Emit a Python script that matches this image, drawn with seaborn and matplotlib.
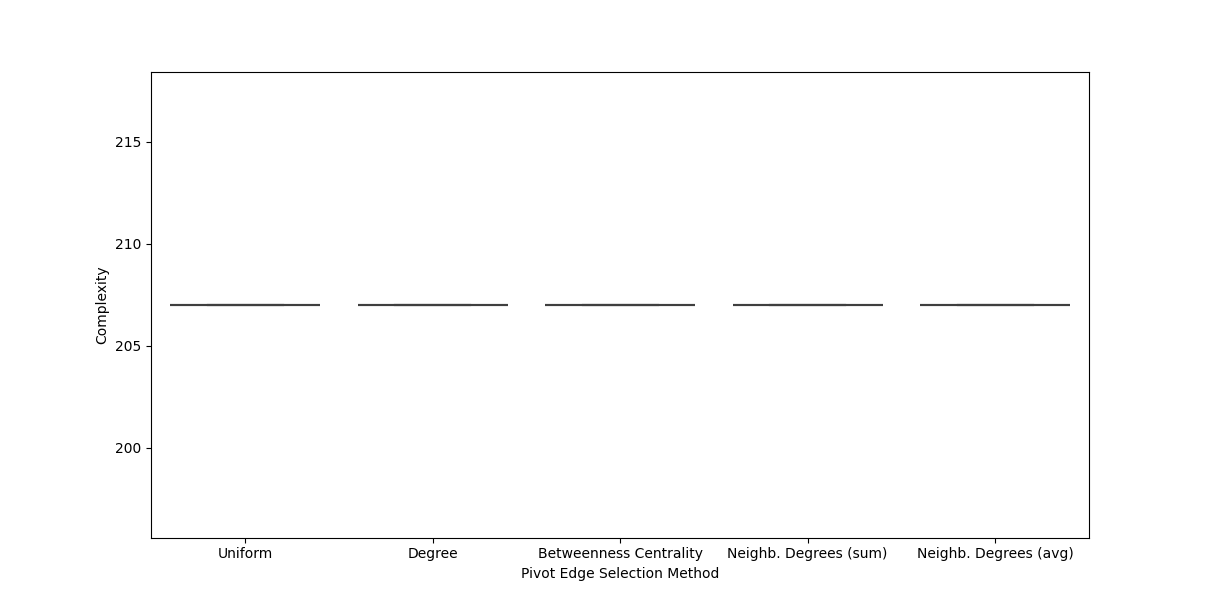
import matplotlib
matplotlib.use("Agg")
import matplotlib.pyplot as plt
import seaborn as sns
import pandas as pd

# complexity per run for each pivot edge selection method
methods = ['Uniform', 'Degree', 'Betweenness Centrality',
           'Neighb. Degrees (sum)', 'Neighb. Degrees (avg)']
uniform = [207, 207, 207, 207, 207, 207, 207, 207, 207, 207]
degree = [207, 207, 207, 207, 207, 207, 207, 207, 207, 207]
betweenness = [207, 207, 207, 207, 207, 207, 207, 207, 207, 207]
neighb_sum = [207, 207, 207, 207, 207, 207, 207, 207, 207, 207]
neighb_avg = [207, 207, 207, 207, 207, 207, 207, 207, 207, 207]

rows = []
for m, vals in zip(methods, [uniform, degree, betweenness, neighb_sum, neighb_avg]):
    for v in vals:
        rows.append({'method': m, 'complexity': v})
df = pd.DataFrame(rows)

fig, ax = plt.subplots(figsize=(12.1, 6.04), dpi=100)
sns.boxplot(x='method', y='complexity', data=df, ax=ax, order=methods,
            linewidth=1.5, linecolor='#3f3f3f')

ax.set_xlabel('Pivot Edge Selection Method')
ax.set_ylabel('Complexity')
fig.savefig('out.png', dpi=100)
